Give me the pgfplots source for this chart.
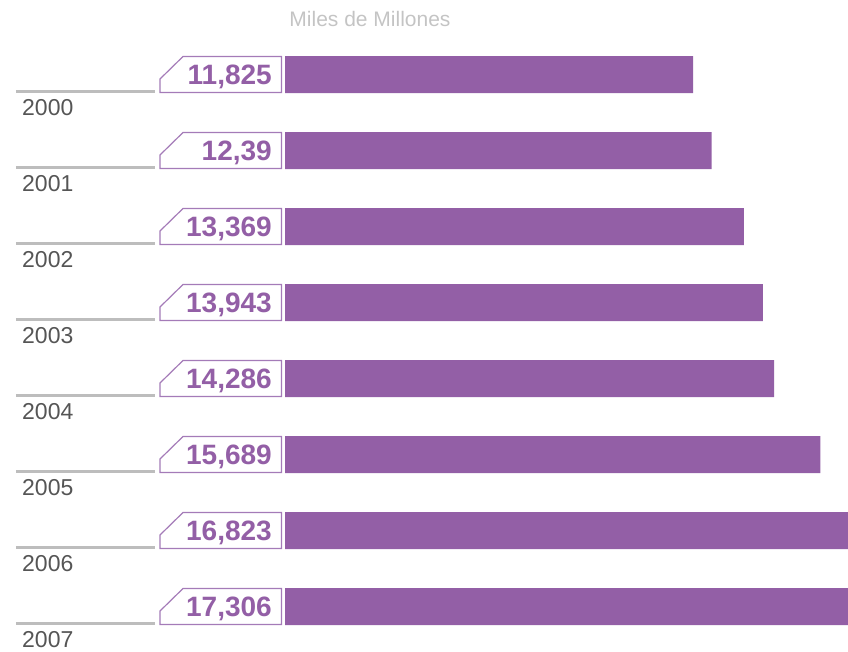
\documentclass[border=0pt]{standalone}
\usepackage{fontspec}
\setmainfont{Liberation Sans}
\usepackage{pgfplots}
\usepackage{pgfplotstable}
\pgfplotsset{compat=1.18}
\definecolor{barc}{HTML}{935FA6}
\definecolor{boxc}{HTML}{A47BB8}
\definecolor{linec}{HTML}{BDBDBD}
\definecolor{yearc}{HTML}{555555}
\definecolor{titlec}{HTML}{C4C4C4}
\pgfplotstableread{
idx value label year
0 11.825 11,825 2000
1 12.39 12,39 2001
2 13.369 13,369 2002
3 13.943 13,943 2003
4 14.286 14,286 2004
5 15.689 15,689 2005
6 16.823 16,823 2006
7 17.306 17,306 2007
}\datatable
\begin{document}
\begin{tikzpicture}[x=1pt,y=1pt]
\path[use as bounding box] (0,0) rectangle (848,652);
\node[anchor=base, text=titlec, font=\fontsize{21}{25}\selectfont] at (370,625) {Miles de Millones};
\begin{axis}[
  at={(285pt,7.5pt)}, anchor=south west,
  scale only axis, width=563pt, height=608pt,
  xmin=0, xmax=17.11, ymin=-0.5, ymax=7.5, y dir=reverse,
  axis lines=none, ticks=none, clip=false,
]
\pgfplotsinvokeforeach{0,...,7}{
  \draw[linec, line width=2.4pt] ([xshift=-269pt,yshift=-17pt]axis cs:0,#1) -- ([xshift=-130pt,yshift=-17pt]axis cs:0,#1);
  \draw[boxc, fill=white, line width=1.2pt] ([xshift=-125pt,yshift=-18pt]axis cs:0,#1) -- ([xshift=-125pt,yshift=-4.5pt]axis cs:0,#1) -- ([xshift=-102pt,yshift=18pt]axis cs:0,#1) -- ([xshift=-3.5pt,yshift=18pt]axis cs:0,#1) -- ([xshift=-3.5pt,yshift=-18pt]axis cs:0,#1) -- cycle;
}
\addplot[xbar, fill=barc, draw=none, bar width=37pt] table[x expr=\thisrow{value}+0.578, y=idx] {\datatable};
\addplot[draw=none, mark=none, point meta=explicit symbolic, nodes near coords,
  every node near coord/.style={anchor=base east, xshift=-13pt, yshift=-10pt, inner sep=0pt, text=barc, font=\fontsize{28}{31}\selectfont\bfseries}]
  table[x expr=0, y=idx, meta=label] {\datatable};
\addplot[draw=none, mark=none, point meta=explicit symbolic, nodes near coords,
  every node near coord/.style={anchor=base west, xshift=-263pt, yshift=-40.5pt, inner sep=0pt, text=yearc, font=\fontsize{23}{27}\selectfont}]
  table[x expr=0, y=idx, meta=year] {\datatable};
\end{axis}
\end{tikzpicture}
\end{document}
